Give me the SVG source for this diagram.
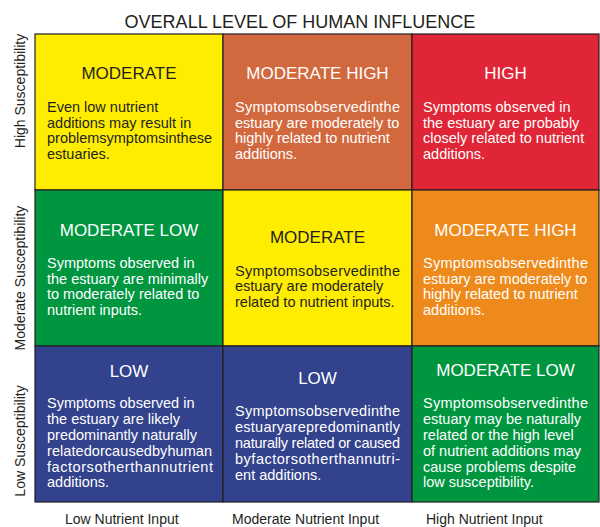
<svg xmlns="http://www.w3.org/2000/svg" width="600" height="527" viewBox="0 0 600 527">
<style>
text{font-family:"Liberation Sans",Arial,sans-serif}
.cell{stroke:#231F20;stroke-width:1.2}
.ttl{font-size:17px;text-anchor:middle}
.body{font-size:14.5px}
.w{fill:#FFFFFF}
.k{fill:#231F20}
.axis{font-size:14px;fill:#231F20}
.main{font-size:18px;fill:#231F20;text-anchor:middle}
</style>
<rect width="600" height="527" fill="#FFFFFF"/>
<text class="main" x="300" y="28">OVERALL LEVEL OF HUMAN INFLUENCE</text>

<g id="axis-y">
<text class="axis" text-anchor="middle" transform="translate(25,91) rotate(-90)">High Susceptibility</text>
<text class="axis" text-anchor="middle" transform="translate(25,278) rotate(-90)">Moderate Susceptibility</text>
<text class="axis" text-anchor="middle" transform="translate(25,441) rotate(-90)">Low Susceptibility</text>
</g>
<g id="axis-x">
<text class="axis" x="65" y="524">Low Nutrient Input</text>
<text class="axis" x="232" y="524">Moderate Nutrient Input</text>
<text class="axis" x="426" y="524">High Nutrient Input</text>
</g>

<g id="cell-high-low">
<rect class="cell" x="35" y="34" width="188" height="156" fill="#FFED00"/>
<text class="ttl k" x="129" y="79">MODERATE</text>
<text class="body k" x="47" y="112">Even low nutrient</text>
<text class="body k" x="47" y="127.5">additions may result in</text>
<text class="body k" x="47" y="143" textLength="165" lengthAdjust="spacing">problemsymptomsinthese</text>
<text class="body k" x="47" y="158.5">estuaries.</text>
</g>

<g id="cell-high-mod">
<rect class="cell" x="223" y="34" width="189" height="156" fill="#D2693E"/>
<text class="ttl w" x="317.5" y="79">MODERATE HIGH</text>
<text class="body w" x="235" y="112" textLength="165" lengthAdjust="spacing">Symptomsobservedinthe</text>
<text class="body w" x="235" y="127.5">estuary are moderately to</text>
<text class="body w" x="235" y="143">highly related to nutrient</text>
<text class="body w" x="235" y="158.5">additions.</text>
</g>

<g id="cell-high-high">
<rect class="cell" x="412" y="34" width="187" height="156" fill="#E02636"/>
<text class="ttl w" x="505.5" y="79">HIGH</text>
<text class="body w" x="423" y="112">Symptoms observed in</text>
<text class="body w" x="423" y="127.5">the estuary are probably</text>
<text class="body w" x="423" y="143">closely related to nutrient</text>
<text class="body w" x="423" y="158.5">additions.</text>
</g>

<g id="cell-mod-low">
<rect class="cell" x="35" y="190" width="188" height="156" fill="#009640"/>
<text class="ttl w" x="129" y="236">MODERATE LOW</text>
<text class="body w" x="47" y="268">Symptoms observed in</text>
<text class="body w" x="47" y="283.5">the estuary are minimally</text>
<text class="body w" x="47" y="299">to moderately related to</text>
<text class="body w" x="47" y="314.5">nutrient inputs.</text>
</g>

<g id="cell-mod-mod">
<rect class="cell" x="223" y="190" width="189" height="156" fill="#FFED00"/>
<text class="ttl k" x="317.5" y="243">MODERATE</text>
<text class="body k" x="235" y="275.5" textLength="165" lengthAdjust="spacing">Symptomsobservedinthe</text>
<text class="body k" x="235" y="291">estuary are moderately</text>
<text class="body k" x="235" y="306.5">related to nutrient inputs.</text>
</g>

<g id="cell-mod-high">
<rect class="cell" x="412" y="190" width="187" height="156" fill="#EE8A1B"/>
<text class="ttl w" x="505.5" y="236">MODERATE HIGH</text>
<text class="body w" x="423" y="268" textLength="165" lengthAdjust="spacing">Symptomsobservedinthe</text>
<text class="body w" x="423" y="283.5">estuary are moderately to</text>
<text class="body w" x="423" y="299">highly related to nutrient</text>
<text class="body w" x="423" y="314.5">additions.</text>
</g>

<g id="cell-low-low">
<rect class="cell" x="35" y="346" width="188" height="156" fill="#33428C"/>
<text class="ttl w" x="129" y="377">LOW</text>
<text class="body w" x="47" y="408">Symptoms observed in</text>
<text class="body w" x="47" y="424">the estuary are likely</text>
<text class="body w" x="47" y="440">predominantly naturally</text>
<text class="body w" x="47" y="456" textLength="165" lengthAdjust="spacing">relatedorcausedbyhuman</text>
<text class="body w" x="47" y="471.5" textLength="166" lengthAdjust="spacing">factorsotherthannutrient</text>
<text class="body w" x="47" y="487">additions.</text>
</g>

<g id="cell-low-mod">
<rect class="cell" x="223" y="346" width="189" height="156" fill="#33428C"/>
<text class="ttl w" x="317.5" y="384">LOW</text>
<text class="body w" x="235" y="416" textLength="165" lengthAdjust="spacing">Symptomsobservedinthe</text>
<text class="body w" x="235" y="432" textLength="165" lengthAdjust="spacing">estuaryarepredominantly</text>
<text class="body w" x="235" y="447.5" textLength="165" lengthAdjust="spacing">naturally related or caused</text>
<text class="body w" x="235" y="463.5" textLength="165" lengthAdjust="spacing">byfactorsotherthannutri-</text>
<text class="body w" x="235" y="479.5">ent additions.</text>
</g>

<g id="cell-low-high">
<rect class="cell" x="412" y="346" width="187" height="156" fill="#009640"/>
<text class="ttl w" x="505.5" y="376">MODERATE LOW</text>
<text class="body w" x="423" y="408" textLength="165" lengthAdjust="spacing">Symptomsobservedinthe</text>
<text class="body w" x="423" y="424">estuary may be naturally</text>
<text class="body w" x="423" y="440">related or the high level</text>
<text class="body w" x="423" y="456">of nutrient additions may</text>
<text class="body w" x="423" y="471.5">cause problems despite</text>
<text class="body w" x="423" y="487">low susceptibility.</text>
</g>
</svg>
